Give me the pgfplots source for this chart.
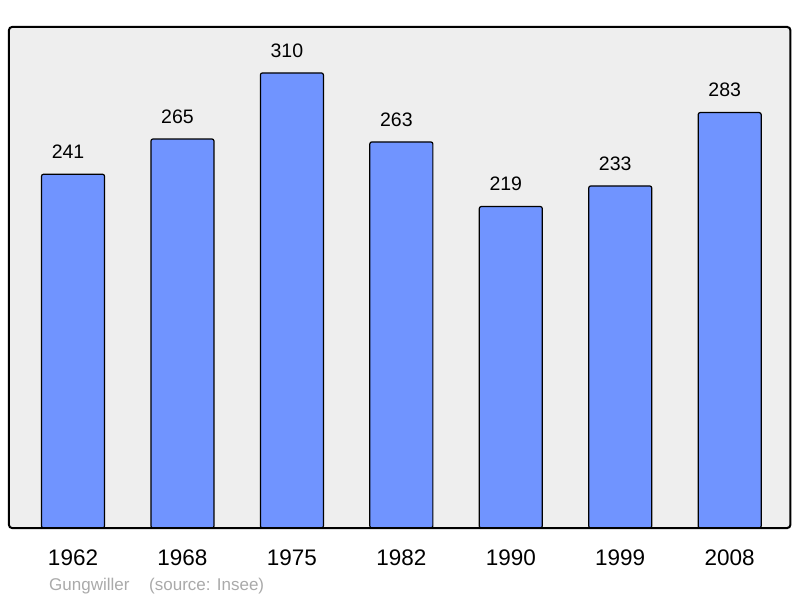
\documentclass[border=0pt]{standalone}
\usepackage{fontspec}
\setmainfont{Liberation Sans}
\usepackage{pgfplots}
\pgfplotsset{compat=1.18}
\definecolor{barblue}{HTML}{7094FF}
\definecolor{bggray}{HTML}{EEEEEE}
\definecolor{footgray}{HTML}{AAAAAA}
\begin{document}
\begin{tikzpicture}[x=1pt,y=1pt]
\fill[white] (0,0) rectangle (800,598);
\begin{axis}[
  at={(9pt,70pt)}, anchor=south west,
  scale only axis, width=781.3pt, height=501pt,
  xmin=-0.585, xmax=6.554, ymin=0, ymax=341.3,
  axis line style={draw=none},
  ybar, bar width=63pt,
  ytick=\empty,
  xtick={0,...,6}, xticklabels={1962,1968,1975,1982,1990,1999,2008},
  major tick length=0pt,
  xticklabel style={font=\fontsize{22.5}{27}\selectfont, anchor=base, yshift=-37pt},
  axis background/.style={fill=bggray, rounded corners=3pt},
  clip=false,
  /pgf/number format/assume math mode=true,
]
\addplot[fill=barblue, draw=black, line width=1.2pt, rounded corners=2pt,
  nodes near coords,
  nodes near coords style={font=\fontsize{19.5}{23}\selectfont, anchor=base, yshift=15.7pt, xshift=-5pt, text=black}]
  coordinates {(0,241) (1,265) (2,310) (3,263) (4,219) (5,233) (6,283)};
\draw[line width=2pt, rounded corners=3pt] (rel axis cs:0,0) rectangle (rel axis cs:1,1);
\end{axis}
\node[anchor=base west, text=footgray, font=\fontsize{17}{20}\selectfont, inner sep=0pt] at (49,8) {Gungwiller};
\node[anchor=base west, text=footgray, font=\fontsize{17}{20}\selectfont, inner sep=0pt] at (149,8) {(source: Insee)};
\end{tikzpicture}
\end{document}
